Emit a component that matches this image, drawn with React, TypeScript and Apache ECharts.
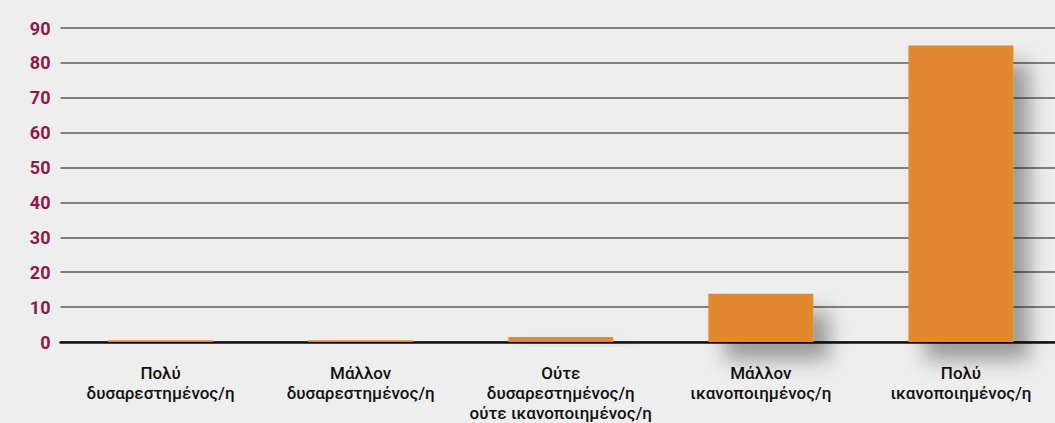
import React, { useEffect, useRef } from "react";
import * as echarts from "echarts";

const categories = [
  "Πολύ\nδυσαρεστημένος/η",
  "Μάλλον\nδυσαρεστημένος/η",
  "Ούτε\nδυσαρεστημένος/η\nούτε ικανοποιημένος/η",
  "Μάλλον\nικανοποιημένος/η",
  "Πολύ\nικανοποιημένος/η",
];
const values = [0.5, 0.5, 1.4, 13.8, 85];
const yTicks = [0, 10, 20, 30, 40, 50, 60, 70, 80, 90];

export default function App() {
  const ref = useRef<HTMLDivElement>(null);
  useEffect(() => {
    if (!ref.current) return;
    const chart = echarts.init(ref.current, null, { renderer: "svg" });
    chart.setOption({
      animation: false,
      backgroundColor: "#eeeeee",
      grid: { left: 60.5, top: 28, right: 0, bottom: 81 },
      xAxis: {
        type: "category",
        data: categories,
        axisLine: { lineStyle: { color: "#111", width: 2.5 } },
        axisTick: { show: false },
        axisLabel: {
          interval: 0,
          color: "#111",
          fontFamily: "Roboto",
          fontWeight: 500,
          fontSize: 17,
          lineHeight: 20,
          margin: 21,
        },
      },
      yAxis: {
        type: "value",
        min: 0,
        max: yTicks[yTicks.length - 1],
        interval: 10,
        axisLine: { show: false },
        axisTick: { show: false },
        axisLabel: {
          color: "#8b1a4a",
          fontFamily: "Roboto",
          fontWeight: "bold",
          fontSize: 18,
          margin: 10,
          formatter: (v: number) => (yTicks.includes(v) ? String(v) : ""),
        },
        splitLine: { lineStyle: { color: "#808080", width: 2 } },
      },
      series: [
        {
          type: "bar",
          data: values,
          barWidth: 105,
          itemStyle: {
            color: "#e2882e",
            shadowColor: "rgba(0,0,0,0.35)",
            shadowBlur: 20,
            shadowOffsetX: 16,
            shadowOffsetY: 18,
          },
        },
      ],
    });
    return () => chart.dispose();
  }, []);
  return (
    <div
      style={{
        position: "absolute",
        left: 0,
        top: 0,
        width: 1055,
        height: 423,
        overflow: "hidden",
        background: "#eeeeee",
      }}
    >
      <div ref={ref} style={{ width: 1060.5, height: 423 }} />
    </div>
  );
}
